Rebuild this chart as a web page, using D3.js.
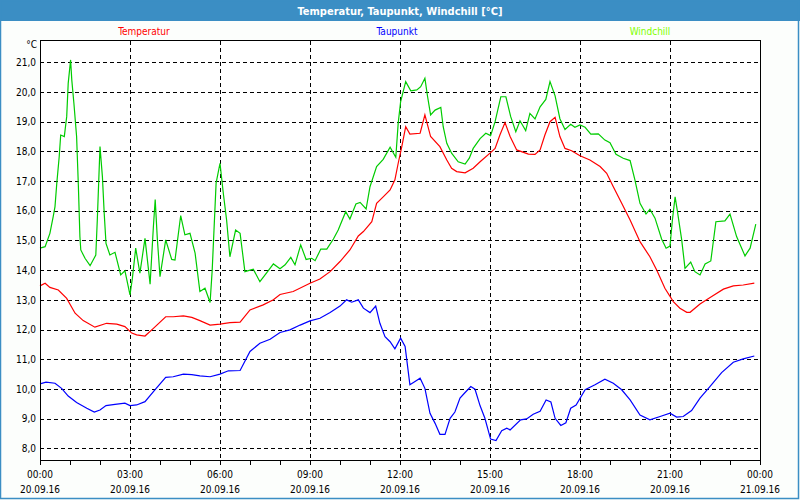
<!DOCTYPE html>
<html lang="de">

<head>
    <meta charset="UTF-8">
    <style>
        body { margin: 0; background: #fff; }
        text { font-family: Tahoma, "DejaVu Sans Condensed", "Liberation Sans", sans-serif; }
    </style>
</head>

<body>
    <svg width="800" height="500"></svg>
    <script src="https://d3js.org/d3.v7.min.js"></script>
    <script>
        // Stunden seit 00:00 (20.09.16) und Werte in °C
        const tempTime = [0, 0.17, 0.33, 0.61, 0.89, 1.17, 1.44, 1.83, 2.22, 2.56, 2.83, 3.06, 3.22, 3.5, 3.78, 4.19, 4.44, 4.78, 5.06, 5.33, 5.67, 6, 6.33, 6.67, 7, 7.44, 7.78, 8, 8.44, 9, 9.33, 9.67, 10, 10.33, 10.61, 10.78, 11.06, 11.22, 11.44, 11.67, 11.83, 11.94, 12.06, 12.19, 12.33, 12.67, 12.83, 13.02, 13.33, 13.56, 13.72, 13.89, 14.17, 14.44, 14.67, 15, 15.17, 15.33, 15.5, 15.67, 15.89, 16.28, 16.5, 16.67, 16.83, 17, 17.17, 17.33, 17.5, 17.72, 18, 18.33, 18.67, 18.89, 19.11, 19.39, 19.67, 20, 20.33, 20.56, 20.83, 21.11, 21.33, 21.56, 21.67, 22, 22.39, 22.78, 23.11, 23.44, 23.81]
        const tempVal = [13.47, 13.56, 13.42, 13.33, 13.05, 12.55, 12.3, 12.08, 12.21, 12.18, 12.1, 11.88, 11.82, 11.78, 12.04, 12.43, 12.43, 12.46, 12.41, 12.3, 12.15, 12.18, 12.23, 12.25, 12.66, 12.83, 13, 13.18, 13.28, 13.56, 13.7, 13.95, 14.29, 14.68, 15.15, 15.3, 15.63, 16.25, 16.47, 16.7, 17.04, 17.6, 18.16, 18.83, 18.58, 18.61, 19.23, 18.5, 18.16, 17.71, 17.43, 17.32, 17.28, 17.43, 17.65, 17.94, 18.1, 18.55, 18.97, 18.5, 18.05, 17.91, 17.9, 18.05, 18.55, 19, 19.15, 18.5, 18.1, 18.02, 17.85, 17.71, 17.49, 17.26, 16.81, 16.25, 15.69, 14.96, 14.45, 14, 13.39, 12.94, 12.72, 12.58, 12.58, 12.86, 13.11, 13.36, 13.47, 13.5, 13.56]

        const dewTime = [0, 0.2, 0.5, 0.72, 0.94, 1.22, 1.56, 1.81, 2, 2.2, 2.5, 2.83, 3, 3.22, 3.5, 3.83, 4.19, 4.44, 4.78, 5.06, 5.33, 5.67, 6, 6.28, 6.67, 7, 7.33, 7.67, 8, 8.33, 8.67, 9, 9.33, 9.67, 10, 10.22, 10.39, 10.61, 10.78, 11, 11.19, 11.33, 11.5, 11.67, 11.83, 12.02, 12.17, 12.33, 12.5, 12.67, 12.83, 13, 13.17, 13.33, 13.5, 13.67, 13.83, 14, 14.17, 14.36, 14.5, 14.67, 14.83, 15.02, 15.2, 15.39, 15.56, 15.67, 16.02, 16.22, 16.44, 16.67, 16.87, 17.03, 17.17, 17.36, 17.53, 17.69, 17.87, 18.17, 18.5, 18.83, 19.11, 19.39, 19.67, 20, 20.33, 20.67, 21, 21.22, 21.44, 21.72, 22, 22.33, 22.72, 23.11, 23.44, 23.81]
        const dewVal = [10.17, 10.23, 10.19, 10.02, 9.76, 9.54, 9.35, 9.22, 9.29, 9.44, 9.48, 9.52, 9.44, 9.46, 9.57, 9.97, 10.39, 10.41, 10.5, 10.48, 10.44, 10.41, 10.5, 10.61, 10.62, 11.26, 11.54, 11.67, 11.9, 11.99, 12.15, 12.29, 12.38, 12.57, 12.79, 13, 12.92, 13, 12.72, 12.57, 12.79, 12.21, 11.76, 11.59, 11.35, 11.71, 11.43, 10.14, 10.25, 10.36, 10.02, 9.18, 8.84, 8.47, 8.47, 9.01, 9.22, 9.69, 9.88, 10.08, 9.99, 9.43, 9.01, 8.31, 8.26, 8.59, 8.68, 8.62, 8.96, 8.99, 9.15, 9.25, 9.63, 9.56, 9.01, 8.77, 8.86, 9.35, 9.46, 9.97, 10.14, 10.33, 10.19, 9.97, 9.63, 9.12, 8.96, 9.07, 9.18, 9.05, 9.07, 9.27, 9.69, 10.08, 10.55, 10.9, 11.01, 11.11]

        const chillTime = [0, 0.17, 0.33, 0.44, 0.5, 0.56, 0.64, 0.69, 0.81, 0.89, 0.94, 1.02, 1.06, 1.13, 1.22, 1.28, 1.33, 1.36, 1.5, 1.67, 1.86, 1.91, 2, 2.08, 2.14, 2.2, 2.33, 2.5, 2.69, 2.83, 3, 3.08, 3.19, 3.33, 3.5, 3.67, 3.78, 3.84, 3.91, 4, 4.19, 4.39, 4.5, 4.69, 4.83, 5, 5.17, 5.33, 5.5, 5.67, 5.74, 5.87, 6, 6.11, 6.22, 6.33, 6.52, 6.67, 6.83, 7.11, 7.33, 7.56, 7.78, 8, 8.17, 8.36, 8.5, 8.69, 8.87, 9.06, 9.17, 9.36, 9.56, 9.78, 9.94, 10.19, 10.33, 10.53, 10.67, 10.87, 11, 11.22, 11.44, 11.67, 11.86, 11.94, 12.02, 12.19, 12.36, 12.56, 12.69, 12.83, 12.92, 13.02, 13.17, 13.36, 13.44, 13.56, 13.72, 13.94, 14.17, 14.31, 14.44, 14.67, 14.86, 15.02, 15.17, 15.36, 15.53, 15.69, 15.86, 16, 16.19, 16.33, 16.5, 16.67, 16.86, 17, 17.17, 17.33, 17.5, 17.69, 17.83, 18, 18.17, 18.36, 18.61, 18.83, 19, 19.2, 19.44, 19.67, 19.83, 20, 20.2, 20.33, 20.5, 20.72, 20.87, 21, 21.08, 21.17, 21.24, 21.39, 21.5, 21.69, 21.83, 22, 22.17, 22.36, 22.53, 22.83, 23, 23.22, 23.5, 23.67, 23.86]
        const chillVal = [14.74, 14.79, 15.24, 15.8, 16.14, 16.93, 17.82, 18.55, 18.5, 19.17, 20.29, 21.08, 20.4, 19.62, 18.5, 16.81, 15.13, 14.68, 14.4, 14.15, 14.51, 15.69, 18.16, 17.15, 15.92, 14.9, 14.51, 14.6, 13.84, 13.98, 13.17, 13.73, 14.74, 13.9, 15.07, 13.53, 15.47, 16.38, 15.07, 13.78, 15.02, 14.36, 14.34, 15.84, 15.19, 15.24, 14.57, 13.28, 13.39, 12.91, 14, 16.93, 17.6, 16.59, 15.69, 14.45, 15.35, 15.24, 13.95, 14.03, 13.61, 13.92, 14.21, 14.05, 14.18, 14.43, 14.18, 14.85, 14.36, 14.4, 14.32, 14.71, 14.71, 15.05, 15.35, 15.97, 15.72, 16.23, 16.28, 16.06, 16.81, 17.49, 17.73, 18.14, 17.8, 18.95, 19.67, 20.35, 20.04, 20.07, 20.18, 20.46, 19.84, 19.23, 19.39, 19.48, 18.83, 18.27, 17.94, 17.65, 17.57, 17.77, 18.1, 18.43, 18.61, 18.53, 19, 19.84, 19.84, 19.17, 18.66, 19.03, 18.7, 19.28, 19.09, 19.5, 19.75, 20.35, 19.87, 19.1, 18.74, 18.91, 18.81, 18.89, 18.81, 18.58, 18.59, 18.38, 18.29, 17.9, 17.77, 17.69, 17.04, 16.25, 15.89, 16.05, 15.75, 15.05, 14.74, 14.81, 15.69, 16.47, 16.03, 15.02, 14.06, 14.27, 13.95, 13.84, 14.21, 14.31, 15.63, 15.66, 15.89, 15.13, 14.48, 14.74, 15.55]

        const yTicks = [8, 9, 10, 11, 12, 13, 14, 15, 16, 17, 18, 19, 20, 21]
        const xTicks = [0, 3, 6, 9, 12, 15, 18, 21, 24]
        const xTimeLabels = ["00:00", "03:00", "06:00", "09:00", "12:00", "15:00", "18:00", "21:00", "00:00"]
        const xDateLabels = ["20.09.16", "20.09.16", "20.09.16", "20.09.16", "20.09.16", "20.09.16", "20.09.16", "20.09.16", "21.09.16"]
        const seriesNames = ["Temperatur", "Taupunkt", "Windchill"]

        const blue = "#3b8ec4"
        const svg = d3.select("svg")

        let x = d3.scaleLinear().domain([0, 24]).range([40, 760])
        let y = d3.scaleLinear().domain([8, 21]).range([448.3, 62.3])
        const plotTop = 40.5, plotBottom = 460.5

        // Rahmen + Titelleiste
        svg.append("rect").attr("x", 0).attr("y", 0).attr("width", 800).attr("height", 500).attr("fill", "#fcfefc")
        svg.append("rect").attr("x", 0).attr("y", 0).attr("width", 800).attr("height", 21).attr("fill", blue)
        svg.append("rect").attr("x", 0.5).attr("y", 0.5).attr("width", 798).attr("height", 498)
            .attr("fill", "none").attr("stroke", blue).attr("stroke-width", 1.5)
        svg.append("text").attr("x", 400).attr("y", 14.5).attr("text-anchor", "middle")
            .attr("fill", "#fff").attr("font-weight", "bold").attr("font-size", "11px")
            .text("Temperatur, Taupunkt, Windchill [°C]")

        // Plotfläche
        svg.append("rect").attr("x", 40).attr("y", plotTop).attr("width", 720).attr("height", plotBottom - plotTop).attr("fill", "#fff")

        // Gitter
        svg.append("g").selectAll("line").data(yTicks).enter().append("line")
            .attr("x1", 40).attr("x2", 760)
            .attr("y1", d => Math.round(y(d)) + 0.5).attr("y2", d => Math.round(y(d)) + 0.5)
            .attr("stroke", "#000").attr("stroke-dasharray", "4,3").attr("shape-rendering", "crispEdges")
        svg.append("g").selectAll("line").data(xTicks.slice(1, -1)).enter().append("line")
            .attr("x1", d => x(d) + 0.5).attr("x2", d => x(d) + 0.5)
            .attr("y1", plotTop).attr("y2", plotBottom)
            .attr("stroke", "#000").attr("stroke-dasharray", "4,3").attr("shape-rendering", "crispEdges")

        // Kurven
        const series = [
            { t: chillTime, v: chillVal, c: "#00cc00" },
            { t: tempTime, v: tempVal, c: "#ff0000" },
            { t: dewTime, v: dewVal, c: "#0000ff" }
        ]
        let line = d3.line().x(d => x(d[0])).y(d => y(d[1])).curve(d3.curveLinear)
        series.forEach(s => {
            svg.append("path")
                .datum(s.t.map((t, i) => [t, s.v[i]]))
                .attr("fill", "none").attr("stroke", s.c).attr("stroke-width", 1.2)
                .attr("d", line)
        })

        // Achsen / Box
        svg.append("rect").attr("x", 40.5).attr("y", plotTop).attr("width", 719.5).attr("height", plotBottom - plotTop)
            .attr("fill", "none").attr("stroke", "#000").attr("shape-rendering", "crispEdges")

        svg.append("g").attr("transform", `translate(0,${plotBottom})`)
            .call(d3.axisBottom(x).tickValues(d3.range(0, 25)).tickSize(4).tickFormat(""))
            .call(g => g.select(".domain").remove())
            .call(g => g.selectAll("line").attr("shape-rendering", "crispEdges"))

        svg.append("g").attr("transform", "translate(40,0)")
            .call(d3.axisLeft(y).tickValues(yTicks).tickSize(0).tickPadding(4)
                .tickFormat(d => d3.format(".1f")(d).replace(".", ",")))
            .call(g => g.select(".domain").remove())
            .call(g => g.selectAll("text").attr("font-size", "10px").attr("fill", "#000")
                .attr("font-family", 'Tahoma, "DejaVu Sans Condensed", "Liberation Sans", sans-serif'))

        svg.append("text").attr("x", 37).attr("y", 48).attr("text-anchor", "end")
            .attr("font-size", "10px").text("°C")

        svg.append("g").selectAll("text").data(xTicks).enter().append("text")
            .attr("x", d => x(d)).attr("y", 478).attr("text-anchor", "middle").attr("font-size", "10px")
            .text((d, i) => xTimeLabels[i])
        svg.append("g").selectAll("text").data(xTicks).enter().append("text")
            .attr("x", d => x(d)).attr("y", 493).attr("text-anchor", "middle").attr("font-size", "10px")
            .text((d, i) => xDateLabels[i])

        // Legende
        const legendX = [144, 397, 650]
        const legendColor = ["#ff0000", "#0000ff", "#80ff00"]
        svg.append("g").selectAll("text").data(seriesNames).enter().append("text")
            .attr("x", (d, i) => legendX[i]).attr("y", 35).attr("text-anchor", "middle")
            .attr("font-size", "10px").attr("fill", (d, i) => legendColor[i])
            .text(d => d)
    </script>
</body>

</html>
